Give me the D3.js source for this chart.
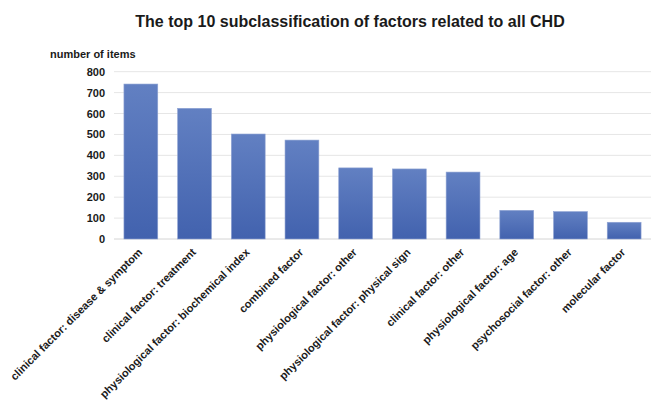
<!DOCTYPE html>
<html><head><meta charset="utf-8">
<script src="https://cdn.jsdelivr.net/npm/d3@7"></script>
<style>body{margin:0;background:#fff}svg{display:block}text{font-family:"Liberation Sans",Arial,sans-serif;font-weight:bold;fill:#1a1a1a}</style>
</head><body><svg id="c" width="652" height="402"></svg>
<script>
const categories = ["clinical factor: disease & symptom","clinical factor: treatment","physiological factor: biochemical index","combined factor","physiological factor: other","physiological factor: physical sign","clinical factor: other","physiological factor: age","psychosocial factor: other","molecular factor"];
const values = [741, 625, 502, 473, 340, 335, 320, 137, 131, 80];
const yTicks = [0,100,200,300,400,500,600,700,800];
const title = "The top 10 subclassification of factors related to all CHD";
const yLabel = "number of items";

const svg = d3.select("#c");
const m = {l:114, r:651, t:71.7, b:239};
const x = d3.scaleBand().domain(categories).range([m.l, m.r]).paddingInner(0.37).paddingOuter(0.185);
const y = d3.scaleLinear().domain([0,800]).range([m.b, m.t]);

const defs = svg.append("defs");
const g = defs.append("linearGradient").attr("id","bg").attr("x1",0).attr("y1",0).attr("x2",0).attr("y2",1);
g.append("stop").attr("offset","0%").attr("stop-color","#6280c2");
g.append("stop").attr("offset","100%").attr("stop-color","#4262ae");

svg.append("g").selectAll("line").data(yTicks).join("line")
  .attr("x1",m.l).attr("x2",m.r).attr("y1",d=>y(d)).attr("y2",d=>y(d))
  .attr("stroke",d=>d===0?"#d4d4d4":"#e6e6e6").attr("stroke-width",1);

const yAxis = svg.append("g").attr("transform",`translate(${m.l},0)`)
  .call(d3.axisLeft(y).tickValues(yTicks).tickSize(0).tickPadding(9));
yAxis.select(".domain").remove();
yAxis.selectAll("text").style("font-size","11px").style("font-family","Liberation Sans, Arial, sans-serif").style("font-weight","bold").attr("fill","#1a1a1a");

svg.append("g").selectAll("rect").data(values).join("rect")
  .attr("x",(d,i)=>x(categories[i])).attr("width",x.bandwidth())
  .attr("y",d=>y(d)).attr("height",d=>y(0)-y(d))
  .attr("fill","url(#bg)").attr("stroke","#8fa3d3").attr("stroke-width",0.6);

const xAxis = svg.append("g").attr("transform",`translate(0,${m.b})`)
  .call(d3.axisBottom(x).tickSize(0).tickPadding(0));
xAxis.select(".domain").remove();
xAxis.selectAll("text")
  .style("font-size","11px").style("font-family","Liberation Sans, Arial, sans-serif").style("font-weight","bold").attr("fill","#1a1a1a")
  .attr("text-anchor","end").attr("dy",null).attr("y",0)
  .attr("transform","translate(2,14) rotate(-45)");

svg.append("text").attr("x",350).attr("y",27).attr("text-anchor","middle").style("font-size","16px").text(title);
svg.append("text").attr("x",50).attr("y",58).style("font-size","11px").text(yLabel);
</script></body></html>
